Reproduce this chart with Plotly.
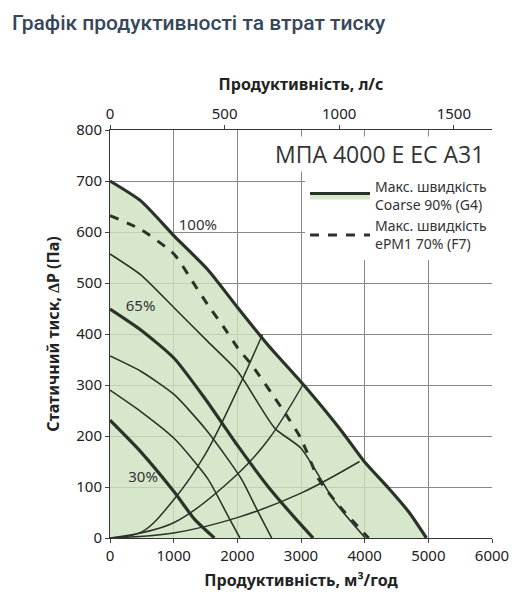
import plotly.graph_objects as go

# curves (flow m3/h, pressure Pa)
max_x = [0, 484, 1010, 1537, 2010, 2484, 3063, 3642, 4000, 4380, 4700, 4970]
max_y = [700, 661, 592, 526, 451, 378, 297, 209, 149, 97, 50, 0]

f7_x = [0, 484, 1010, 1326, 1537, 1800, 2010, 2221, 2695, 3000, 3274, 3642, 4063]
f7_y = [632, 605, 556, 497, 457, 411, 372, 340, 255, 195, 116, 57, 0]

speed_curves = [
    ([0, 484, 1010, 1537, 2010, 2590, 3000, 3537, 4010],
     [557, 516, 451, 385, 326, 215, 176, 70, 0], 1.6),
    ([0, 484, 1010, 1500, 2000, 2500, 2900, 3190],
     [449, 408, 352, 272, 182, 98, 40, 0], 3.2),
    ([0, 484, 1010, 1537, 2063, 2326, 2540],
     [357, 327, 281, 208, 116, 51, 0], 1.6),
    ([0, 484, 1010, 1537, 1850, 2040],
     [290, 248, 195, 116, 44, 0], 1.6),
    ([0, 484, 1010, 1326, 1640],
     [231, 169, 90, 37, 0], 3.2),
]

system_curves = [
    ([0, 500, 1000, 1500, 2000, 2395], [0, 12, 75, 165, 290, 399]),
    ([0, 1000, 2000, 2500, 3026], [0, 30, 125, 195, 300]),
    ([0, 1000, 2000, 3000, 3920], [0, 10, 40, 88, 150]),
]

pct_labels = ["100%", "65%", "30%"]
pct_x = [1380, 480, 520]
pct_y = [612, 452, 118]

dark = "#2b3328"
fig = go.Figure()

fig.add_trace(go.Scatter(x=max_x, y=max_y, mode="lines", fill="tozeroy",
                         fillcolor="rgba(205,225,190,0.8)",
                         line=dict(color=dark, width=3.2, shape="spline", smoothing=0.6),
                         name="Макс. швидкість<br>Coarse 90% (G4)"))
for sx, sy, w in speed_curves:
    fig.add_trace(go.Scatter(x=sx, y=sy, mode="lines", showlegend=False,
                             line=dict(color=dark, width=w, shape="spline", smoothing=0.6)))
for sx, sy in system_curves:
    fig.add_trace(go.Scatter(x=sx, y=sy, mode="lines", showlegend=False,
                             line=dict(color=dark, width=1.5, shape="spline")))
fig.add_trace(go.Scatter(x=f7_x, y=f7_y, mode="lines",
                         line=dict(color=dark, width=3, dash="dash", shape="spline",
                                   smoothing=0.6),
                         name="Макс. швидкість<br>ePM1 70% (F7)"))
fig.add_trace(go.Scatter(x=pct_x, y=pct_y, mode="text", text=pct_labels,
                         showlegend=False,
                         textfont=dict(size=15, color="#333", family="Noto Sans")))
# carrier for the top (l/s) axis
fig.add_trace(go.Scatter(x=[0, 6000 / 3.6], y=[0, 0], xaxis="x2", mode="lines",
                         line=dict(width=0), showlegend=False, hoverinfo="skip"))

axis_font = dict(family="Noto Sans", size=15, color="#222")
title_font = dict(family="Noto Sans", size=16, color="#222", weight="bold")
fig.update_layout(
    width=524, height=616,
    margin=dict(l=102, r=40, t=122, b=86),
    plot_bgcolor="white", paper_bgcolor="white",
    font=dict(family="Noto Sans"),
    xaxis=dict(range=[0, 6000], dtick=1000, showgrid=True, gridcolor="#888",
               gridwidth=1, showline=True, linecolor="#333", ticks="outside",
               ticklen=4, tickfont=axis_font, zeroline=False,
               title=dict(text="Продуктивність, м³/год", font=title_font,
                          standoff=10)),
    xaxis2=dict(range=[0, 6000 / 3.6], dtick=500, overlaying="x", side="top",
                showgrid=False, showline=True, linecolor="#333", ticks="outside",
                ticklen=4, tickfont=axis_font,
                title=dict(text="Продуктивність, л/с", font=title_font,
                           standoff=8)),
    yaxis=dict(range=[0, 800], dtick=100, showgrid=True, gridcolor="#888",
               showline=True, linecolor="#333", ticks="outside", ticklen=4,
               tickfont=axis_font, zeroline=False,
               title=dict(text="Статичний тиск, ∆P (Па)", font=title_font,
                          standoff=12)),
    legend=dict(x=1.0, y=0.9, xanchor="right", yanchor="top",
                bgcolor="white", font=dict(size=14, color="#333"),
                tracegroupgap=4, itemwidth=60),
    annotations=[
        dict(text="Графік продуктивності та втрат тиску", xref="paper",
             yref="paper", x=-0.262, y=1.297, xanchor="left", yanchor="top",
             showarrow=False,
             font=dict(family="Roboto", size=21, color="#37475a", weight=500)),
        dict(text="МПА 4000 Е ЕС А31", xref="paper", yref="paper",
             x=0.985, y=0.985, xanchor="right", yanchor="top", showarrow=False,
             bgcolor="white", font=dict(family="Open Sans", size=23, color="#333")),
    ],
)

fig.write_html("out.html")
